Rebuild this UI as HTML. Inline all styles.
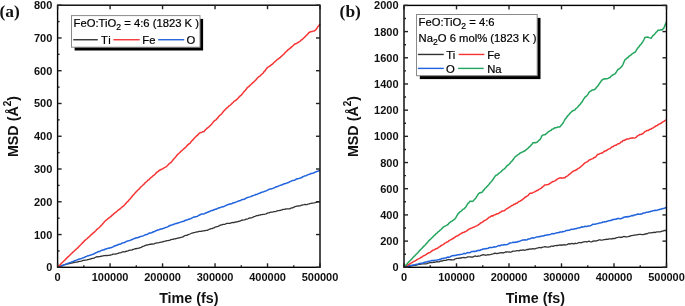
<!DOCTYPE html>
<html><head><meta charset="utf-8"><style>
html,body{margin:0;padding:0;background:#fff;width:685px;height:306px;overflow:hidden}
svg{display:block;will-change:transform}
text{font-family:"Liberation Sans",sans-serif;fill:#111}
.tl{font-size:11px;font-weight:bold}
.at{font-size:14.3px;font-weight:bold}
.lg{font-size:11.25px;fill:#000;stroke:#000;stroke-width:0.2px}
.pl{font-family:"Liberation Serif",serif;font-size:17.4px;font-weight:bold}
</style></head><body>
<svg width="685" height="306" viewBox="0 0 685 306">
<rect width="685" height="306" fill="#fff"/>
<path d="M57.60,267.30 L58.65,266.92 L59.70,266.54 L60.75,266.18 L61.80,265.81 L62.85,265.40 L63.90,264.99 L64.95,264.68 L66.00,264.27 L67.00,264.03 L68.00,263.91 L69.00,263.66 L70.00,263.49 L71.00,263.23 L72.00,263.02 L73.00,262.70 L74.00,262.54 L75.00,262.42 L76.00,262.15 L77.00,261.99 L78.00,261.78 L79.00,261.38 L80.00,261.30 L81.00,261.10 L82.00,260.79 L83.00,260.43 L84.00,260.47 L85.00,260.22 L86.00,260.10 L87.00,259.94 L88.00,259.65 L89.00,259.47 L90.00,258.99 L91.00,258.83 L92.00,258.42 L93.00,258.35 L94.00,258.14 L95.00,257.47 L96.00,257.03 L97.00,256.72 L98.00,256.98 L99.00,256.69 L100.00,256.58 L101.00,256.24 L102.00,256.12 L103.00,255.90 L104.00,255.68 L105.00,255.63 L106.00,255.52 L107.00,255.56 L108.00,255.34 L109.00,255.28 L110.00,255.11 L111.00,255.00 L112.00,254.66 L113.00,254.10 L114.00,254.16 L115.00,254.14 L116.00,254.00 L117.00,253.62 L118.00,253.40 L119.00,252.87 L120.00,252.88 L121.00,252.60 L122.00,252.17 L123.00,251.72 L124.00,251.87 L125.00,251.89 L126.00,251.23 L127.00,251.24 L128.00,250.85 L129.00,250.37 L130.00,250.10 L131.00,250.12 L132.00,250.05 L133.00,249.38 L134.00,249.28 L135.00,248.75 L136.00,248.77 L137.00,248.40 L138.00,248.35 L139.00,248.21 L140.00,247.68 L141.00,247.56 L142.00,246.90 L143.00,246.29 L144.00,246.15 L145.00,245.56 L146.00,245.21 L147.00,245.00 L148.00,244.95 L149.00,244.52 L150.00,244.14 L151.00,244.33 L152.00,243.96 L153.00,244.06 L154.00,243.93 L155.00,243.44 L156.00,243.14 L157.00,242.92 L158.00,242.77 L159.00,242.56 L160.00,242.32 L161.00,242.13 L162.00,242.11 L163.00,241.73 L164.00,241.38 L165.00,241.28 L166.00,240.83 L167.00,240.54 L168.00,240.69 L169.00,240.37 L170.00,240.12 L171.00,239.56 L172.00,239.43 L173.00,239.35 L174.00,238.86 L175.00,238.87 L176.00,238.77 L177.00,238.26 L178.00,238.19 L179.00,237.91 L180.00,237.75 L181.00,237.33 L182.00,237.20 L183.00,236.89 L184.00,236.10 L185.00,235.55 L186.00,235.45 L187.00,235.35 L188.00,234.68 L189.00,234.30 L190.00,234.00 L191.00,233.49 L192.00,233.08 L193.00,232.79 L194.00,232.57 L195.00,232.47 L196.00,232.11 L197.00,231.87 L198.00,231.94 L199.00,231.44 L200.00,231.46 L201.00,231.47 L202.00,231.14 L203.00,230.84 L204.00,230.97 L205.00,230.61 L206.00,230.32 L207.00,230.25 L208.00,230.07 L209.00,229.42 L210.00,229.06 L211.00,228.69 L212.00,228.61 L213.00,228.11 L214.00,227.92 L215.00,227.20 L216.00,226.76 L217.00,226.53 L218.00,226.42 L219.00,225.94 L220.00,225.41 L221.00,224.93 L222.00,224.79 L223.00,224.38 L224.00,224.42 L225.00,224.30 L226.00,223.70 L227.00,223.33 L228.00,223.46 L229.00,223.33 L230.00,223.29 L231.00,222.92 L232.00,222.54 L233.00,222.38 L234.00,222.53 L235.00,222.20 L236.00,222.01 L237.00,221.89 L238.00,221.57 L239.00,221.24 L240.00,221.22 L241.00,220.57 L242.00,220.00 L243.00,220.13 L244.00,219.97 L245.00,219.78 L246.00,219.18 L247.00,219.04 L248.00,218.83 L249.00,218.16 L250.00,218.01 L251.00,217.85 L252.00,217.52 L253.00,217.13 L254.00,216.66 L255.00,216.33 L256.00,215.96 L257.00,215.54 L258.00,215.52 L259.00,215.18 L260.00,215.20 L261.00,214.60 L262.00,214.69 L263.00,214.46 L264.00,214.35 L265.00,214.13 L266.00,213.88 L267.00,213.43 L268.00,212.79 L269.00,212.82 L270.00,212.37 L271.00,212.12 L272.00,212.11 L273.00,211.90 L274.00,211.62 L275.00,211.68 L276.00,211.40 L277.00,210.98 L278.00,210.61 L279.00,210.69 L280.00,210.36 L281.00,210.27 L282.00,209.85 L283.00,209.44 L284.00,209.33 L285.00,209.32 L286.00,208.81 L287.00,208.82 L288.00,208.94 L289.00,208.89 L290.00,208.84 L291.00,208.03 L292.00,207.86 L293.00,207.74 L294.00,207.02 L295.00,206.64 L296.00,206.29 L297.00,206.11 L298.00,205.98 L299.00,205.88 L300.00,205.94 L301.00,205.36 L302.00,205.03 L303.00,204.81 L304.00,204.60 L305.00,204.36 L306.00,204.69 L307.00,204.65 L308.00,204.06 L309.00,203.94 L310.00,203.66 L311.00,203.41 L312.00,203.19 L313.00,203.15 L314.00,202.98 L315.00,202.64 L316.00,202.27 L317.00,202.06 L318.00,201.73 L319.00,201.71 L320.00,201.60" fill="none" stroke="#333333" stroke-width="1.3" stroke-linejoin="round"/>
<path d="M57.60,267.30 L58.60,266.92 L59.60,266.52 L60.60,266.13 L61.60,265.75 L62.60,265.39 L63.60,265.04 L64.60,264.63 L65.60,264.29 L66.60,263.91 L67.60,263.50 L68.60,263.10 L69.60,262.73 L70.60,262.40 L71.60,261.98 L72.60,261.65 L73.60,261.24 L74.60,260.79 L75.60,260.46 L76.60,260.14 L77.60,259.62 L78.60,259.27 L79.60,258.91 L80.60,258.70 L81.60,258.43 L82.60,257.90 L83.60,257.65 L84.60,257.30 L85.60,256.72 L86.60,256.33 L87.60,255.80 L88.60,255.67 L89.60,255.34 L90.60,255.10 L91.60,254.75 L92.60,254.32 L93.60,253.97 L94.60,253.51 L95.60,252.84 L96.60,252.61 L97.60,251.95 L98.60,251.54 L99.60,251.52 L100.60,250.88 L101.60,250.41 L102.60,250.00 L103.60,250.08 L104.60,249.50 L105.60,248.94 L106.60,248.97 L107.60,248.35 L108.60,248.31 L109.60,247.98 L110.60,247.73 L111.60,247.48 L112.60,246.95 L113.60,246.64 L114.60,245.84 L115.60,245.71 L116.60,245.30 L117.60,245.04 L118.60,244.35 L119.60,244.23 L120.60,244.08 L121.60,243.29 L122.60,242.89 L123.60,242.65 L124.60,242.50 L125.60,241.89 L126.60,241.37 L127.60,240.98 L128.60,240.82 L129.60,240.63 L130.60,240.13 L131.60,239.69 L132.60,239.31 L133.60,238.91 L134.60,238.57 L135.60,238.01 L136.60,237.81 L137.60,237.81 L138.60,237.27 L139.60,237.03 L140.60,236.37 L141.60,236.19 L142.60,235.95 L143.60,235.59 L144.60,235.13 L145.60,234.71 L146.60,234.41 L147.60,234.23 L148.60,233.50 L149.60,232.95 L150.60,232.89 L151.60,232.76 L152.60,232.26 L153.60,231.80 L154.60,231.55 L155.60,230.93 L156.60,230.49 L157.60,230.06 L158.60,229.89 L159.60,229.46 L160.60,229.02 L161.60,228.89 L162.60,228.79 L163.60,228.16 L164.60,227.92 L165.60,227.43 L166.60,227.28 L167.60,226.85 L168.60,226.27 L169.60,225.78 L170.60,225.25 L171.60,225.08 L172.60,224.75 L173.60,224.27 L174.60,223.97 L175.60,223.62 L176.60,223.53 L177.60,222.91 L178.60,222.94 L179.60,222.45 L180.60,222.10 L181.60,221.67 L182.60,221.50 L183.60,221.21 L184.60,220.72 L185.60,220.26 L186.60,220.00 L187.60,219.76 L188.60,219.18 L189.60,218.92 L190.60,218.74 L191.60,218.17 L192.60,217.57 L193.60,217.10 L194.60,216.98 L195.60,216.70 L196.60,216.55 L197.60,216.22 L198.60,215.50 L199.60,214.95 L200.60,214.54 L201.60,214.12 L202.60,214.04 L203.60,213.89 L204.60,213.66 L205.60,212.96 L206.60,212.82 L207.60,212.22 L208.60,211.82 L209.60,211.62 L210.60,210.95 L211.60,210.45 L212.60,210.47 L213.60,209.95 L214.60,209.56 L215.60,209.31 L216.60,209.06 L217.60,208.35 L218.60,208.02 L219.60,207.74 L220.60,207.44 L221.60,206.94 L222.60,206.74 L223.60,206.67 L224.60,206.10 L225.60,205.73 L226.60,205.11 L227.60,204.73 L228.60,204.58 L229.60,203.99 L230.60,203.98 L231.60,203.79 L232.60,203.02 L233.60,202.98 L234.60,202.42 L235.60,202.20 L236.60,201.89 L237.60,201.28 L238.60,201.02 L239.60,200.70 L240.60,200.44 L241.60,199.79 L242.60,199.60 L243.60,199.43 L244.60,198.98 L245.60,198.49 L246.60,197.82 L247.60,197.54 L248.60,197.12 L249.60,196.95 L250.60,196.65 L251.60,196.24 L252.60,195.63 L253.60,195.42 L254.60,195.12 L255.60,194.51 L256.60,194.46 L257.60,194.09 L258.60,193.40 L259.60,193.37 L260.60,192.68 L261.60,192.28 L262.60,192.12 L263.60,191.78 L264.60,191.39 L265.60,191.07 L266.60,190.60 L267.60,190.10 L268.60,189.59 L269.60,189.09 L270.60,189.04 L271.60,188.84 L272.60,188.42 L273.60,188.14 L274.60,187.58 L275.60,187.06 L276.60,186.70 L277.60,186.62 L278.60,185.88 L279.60,185.61 L280.60,185.13 L281.60,185.02 L282.60,184.52 L283.60,184.07 L284.60,183.70 L285.60,183.41 L286.60,183.21 L287.60,182.66 L288.60,182.50 L289.60,181.78 L290.60,181.34 L291.60,180.83 L292.60,180.40 L293.60,180.39 L294.60,180.15 L295.60,179.51 L296.60,179.01 L297.60,178.71 L298.60,178.56 L299.60,178.33 L300.60,177.97 L301.60,177.51 L302.60,176.82 L303.60,176.45 L304.60,175.95 L305.60,175.71 L306.60,175.42 L307.60,174.85 L308.60,174.41 L309.60,174.32 L310.60,173.62 L311.60,173.55 L312.60,173.36 L313.60,173.10 L314.60,172.42 L315.60,172.01 L316.60,171.63 L317.60,171.27 L318.60,171.10 L320.00,170.21" fill="none" stroke="#1f62dc" stroke-width="1.5" stroke-linejoin="round"/>
<path d="M57.60,267.30 L58.64,266.24 L59.69,265.20 L60.73,264.14 L61.78,263.09 L62.82,262.05 L63.87,260.93 L64.91,259.92 L65.96,258.88 L67.00,257.81 L68.00,256.87 L69.00,255.92 L70.00,254.92 L71.00,254.02 L72.00,252.99 L73.00,252.11 L74.00,251.23 L75.00,250.27 L76.00,249.35 L77.00,248.54 L78.00,247.61 L79.00,246.41 L80.00,245.54 L81.00,244.56 L82.00,243.37 L83.00,242.41 L84.00,241.38 L85.00,240.31 L86.00,239.48 L87.00,238.74 L88.00,237.66 L89.00,236.92 L90.00,236.00 L91.00,234.80 L92.00,234.11 L93.00,233.17 L94.00,232.41 L95.00,231.45 L96.00,230.50 L97.00,229.31 L98.00,228.52 L99.00,227.71 L100.00,226.77 L101.00,225.57 L102.00,224.69 L103.00,223.61 L104.00,222.36 L105.00,221.24 L106.00,220.30 L107.00,219.47 L108.00,218.59 L109.00,217.91 L110.00,217.24 L111.00,216.36 L112.00,215.41 L113.00,214.64 L114.00,213.60 L115.00,212.74 L116.00,212.12 L117.00,211.18 L118.00,210.18 L119.00,209.71 L120.00,208.95 L121.00,207.95 L122.00,207.06 L123.00,206.30 L124.00,205.56 L125.00,204.56 L126.00,203.21 L127.00,202.10 L128.00,201.33 L129.00,199.97 L130.00,198.93 L131.00,197.68 L132.00,196.51 L133.00,195.34 L134.00,194.33 L135.00,193.11 L136.00,191.96 L137.00,190.92 L138.00,189.92 L139.00,189.10 L140.00,187.90 L141.00,186.78 L142.00,185.96 L143.00,185.00 L144.00,184.18 L145.00,182.85 L146.00,182.05 L147.00,181.20 L148.00,180.11 L149.00,179.70 L150.00,178.59 L151.00,177.53 L152.00,176.79 L153.00,175.79 L154.00,175.13 L155.00,174.19 L156.00,173.14 L157.00,172.15 L158.00,171.62 L159.00,170.63 L160.00,170.00 L161.00,169.47 L162.00,169.25 L163.00,168.52 L164.00,167.91 L165.00,167.39 L166.00,166.82 L167.00,165.96 L168.00,164.92 L169.00,163.82 L170.00,163.19 L171.00,162.46 L172.00,161.34 L173.00,159.92 L174.00,158.74 L175.00,157.68 L176.00,156.53 L177.00,155.29 L178.00,154.09 L179.00,153.26 L180.00,152.39 L181.00,151.16 L182.00,150.56 L183.00,149.47 L184.00,148.66 L185.00,147.85 L186.00,147.02 L187.00,145.61 L188.00,144.64 L189.00,143.89 L190.00,143.26 L191.00,141.79 L192.00,140.66 L193.00,139.89 L194.00,138.51 L195.00,137.46 L196.00,136.44 L197.00,135.63 L198.00,134.87 L199.00,133.53 L200.00,132.71 L201.00,132.44 L202.00,132.19 L203.00,131.71 L204.00,131.53 L205.00,130.33 L206.00,129.31 L207.00,128.23 L208.00,127.64 L209.00,126.73 L210.00,125.72 L211.00,124.75 L212.00,123.68 L213.00,122.40 L214.00,121.16 L215.00,120.45 L216.00,119.89 L217.00,118.52 L218.00,117.60 L219.00,116.13 L220.00,115.22 L221.00,114.42 L222.00,113.45 L223.00,111.96 L224.00,110.74 L225.00,109.92 L226.00,108.79 L227.00,107.79 L228.00,107.03 L229.00,105.99 L230.00,105.34 L231.00,104.49 L232.00,103.42 L233.00,102.51 L234.00,101.47 L235.00,100.75 L236.00,100.31 L237.00,99.15 L238.00,98.31 L239.00,97.13 L240.00,96.06 L241.00,95.39 L242.00,94.31 L243.00,92.90 L244.00,91.65 L245.00,90.70 L246.00,89.56 L247.00,88.01 L248.00,87.05 L249.00,86.53 L250.00,85.32 L251.00,84.45 L252.00,83.45 L253.00,82.67 L254.00,81.67 L255.00,80.79 L256.00,79.70 L257.00,78.47 L258.00,77.51 L259.00,76.55 L260.00,76.11 L261.00,75.02 L262.00,74.02 L263.00,73.27 L264.00,71.79 L265.00,70.86 L266.00,69.27 L267.00,68.10 L268.00,67.17 L269.00,66.66 L270.00,65.86 L271.00,65.06 L272.00,64.32 L273.00,63.58 L274.00,62.47 L275.00,61.67 L276.00,60.75 L277.00,59.67 L278.00,59.18 L279.00,58.36 L280.00,57.67 L281.00,56.55 L282.00,55.79 L283.00,54.81 L284.00,54.01 L285.00,52.72 L286.00,51.78 L287.00,50.91 L288.00,49.80 L289.00,49.10 L290.00,48.40 L291.00,47.40 L292.00,46.59 L293.00,45.77 L294.00,44.71 L295.00,43.85 L296.00,43.75 L297.00,43.05 L298.00,42.52 L299.00,41.81 L300.00,41.31 L301.00,40.23 L302.00,39.63 L303.00,38.67 L304.00,37.75 L305.00,36.83 L306.00,35.70 L307.00,34.86 L308.00,33.71 L309.00,32.60 L310.00,31.89 L311.00,31.75 L312.00,31.60 L313.00,31.13 L314.00,30.97 L315.00,30.56 L316.00,29.46 L317.00,28.16 L318.00,26.45 L319.00,25.48 L320.00,24.00" fill="none" stroke="#f73434" stroke-width="1.5" stroke-linejoin="round"/>
<path d="M404.00,267.10 L405.00,266.92 L406.00,266.76 L407.00,266.58 L408.00,266.41 L409.00,266.26 L410.00,266.03 L411.00,265.93 L412.00,265.72 L413.00,265.56 L414.00,265.37 L415.00,265.29 L416.00,265.16 L417.00,264.91 L418.00,264.64 L419.00,264.48 L420.00,264.35 L421.00,264.09 L422.00,263.90 L423.00,263.96 L424.00,263.88 L425.00,263.88 L426.00,263.80 L427.00,263.65 L428.00,263.26 L429.00,262.88 L430.00,262.69 L431.00,262.60 L432.00,262.51 L433.00,262.40 L434.00,262.15 L435.00,262.26 L436.00,261.87 L437.00,261.72 L438.00,261.86 L439.00,261.79 L440.00,261.32 L441.00,260.98 L442.00,261.16 L443.00,260.55 L444.00,260.28 L445.00,260.39 L446.00,260.37 L447.00,259.98 L448.00,259.63 L449.00,259.52 L450.00,259.84 L451.00,259.66 L452.00,259.91 L453.00,259.79 L454.00,259.81 L455.00,258.98 L456.00,258.65 L457.00,258.29 L458.00,258.38 L459.00,258.27 L460.00,257.91 L461.00,258.07 L462.00,257.70 L463.00,257.63 L464.00,257.47 L465.00,257.76 L466.00,257.51 L467.00,257.20 L468.00,256.80 L469.00,256.86 L470.00,256.97 L471.00,256.98 L472.00,257.10 L473.00,256.99 L474.00,256.42 L475.00,256.00 L476.00,256.23 L477.00,256.28 L478.00,256.01 L479.00,256.07 L480.00,255.80 L481.00,255.38 L482.00,255.03 L483.00,254.68 L484.00,254.95 L485.00,255.20 L486.00,255.25 L487.00,254.84 L488.00,254.75 L489.00,254.84 L490.00,254.72 L491.00,254.42 L492.00,254.06 L493.00,253.91 L494.00,253.50 L495.00,253.25 L496.00,253.46 L497.00,253.73 L498.00,253.43 L499.00,253.11 L500.00,252.85 L501.00,252.74 L502.00,252.90 L503.00,252.62 L504.00,252.82 L505.00,252.20 L506.00,251.98 L507.00,251.98 L508.00,251.81 L509.00,252.02 L510.00,252.03 L511.00,252.04 L512.00,251.72 L513.00,251.04 L514.00,251.10 L515.00,251.03 L516.00,250.89 L517.00,250.58 L518.00,250.72 L519.00,250.87 L520.00,250.22 L521.00,250.32 L522.00,250.05 L523.00,249.97 L524.00,250.17 L525.00,250.25 L526.00,249.96 L527.00,249.40 L528.00,249.66 L529.00,249.11 L530.00,248.96 L531.00,249.17 L532.00,248.79 L533.00,248.52 L534.00,248.86 L535.00,248.95 L536.00,248.41 L537.00,248.16 L538.00,247.89 L539.00,247.58 L540.00,247.47 L541.00,247.93 L542.00,247.35 L543.00,247.14 L544.00,246.95 L545.00,246.70 L546.00,246.87 L547.00,247.06 L548.00,247.15 L549.00,246.95 L550.00,246.94 L551.00,246.22 L552.00,246.05 L553.00,246.44 L554.00,245.84 L555.00,245.65 L556.00,245.67 L557.00,245.44 L558.00,245.49 L559.00,245.04 L560.00,244.92 L561.00,245.37 L562.00,244.86 L563.00,245.16 L564.00,244.65 L565.00,245.00 L566.00,244.83 L567.00,244.67 L568.00,244.12 L569.00,243.73 L570.00,244.05 L571.00,243.65 L572.00,243.42 L573.00,243.75 L574.00,243.86 L575.00,243.19 L576.00,243.54 L577.00,243.29 L578.00,242.98 L579.00,242.55 L580.00,242.51 L581.00,242.90 L582.00,242.44 L583.00,242.04 L584.00,241.80 L585.00,241.61 L586.00,241.63 L587.00,242.02 L588.00,241.45 L589.00,241.21 L590.00,241.63 L591.00,241.79 L592.00,241.78 L593.00,241.11 L594.00,240.83 L595.00,241.10 L596.00,240.78 L597.00,240.74 L598.00,240.33 L599.00,239.84 L600.00,239.81 L601.00,240.04 L602.00,240.10 L603.00,239.88 L604.00,239.62 L605.00,239.49 L606.00,239.28 L607.00,239.19 L608.00,239.31 L609.00,238.78 L610.00,238.78 L611.00,238.98 L612.00,238.92 L613.00,238.29 L614.00,238.55 L615.00,238.50 L616.00,237.86 L617.00,237.57 L618.00,237.32 L619.00,237.00 L620.00,237.53 L621.00,237.23 L622.00,237.39 L623.00,236.78 L624.00,236.34 L625.00,236.75 L626.00,236.80 L627.00,236.90 L628.00,236.62 L629.00,236.29 L630.00,236.25 L631.00,235.62 L632.00,235.61 L633.00,235.45 L634.00,235.06 L635.00,235.16 L636.00,234.91 L637.00,234.86 L638.00,234.65 L639.00,234.43 L640.00,234.28 L641.00,234.33 L642.00,234.57 L643.00,234.56 L644.00,234.41 L645.00,234.24 L646.00,233.65 L647.00,233.84 L648.00,233.28 L649.00,232.83 L650.00,232.85 L651.00,232.95 L652.00,232.60 L653.00,232.60 L654.00,232.23 L655.00,232.52 L656.00,232.15 L657.00,231.92 L658.00,231.78 L659.00,231.90 L660.00,231.95 L661.00,231.52 L662.00,231.17 L663.00,231.07 L664.00,230.49 L665.00,230.43 L665.75,230.69 L666.50,230.38" fill="none" stroke="#333333" stroke-width="1.3" stroke-linejoin="round"/>
<path d="M404.00,267.10 L405.00,266.87 L406.00,266.66 L407.00,266.42 L408.00,266.24 L409.00,265.98 L410.00,265.72 L411.00,265.52 L412.00,265.36 L413.00,265.10 L414.00,264.94 L415.00,264.72 L416.00,264.42 L417.00,264.13 L418.00,263.94 L419.00,263.69 L420.00,263.45 L421.00,263.31 L422.00,263.21 L423.00,262.94 L424.00,262.52 L425.00,262.22 L426.00,262.03 L427.00,261.93 L428.00,261.54 L429.00,261.20 L430.00,261.04 L431.00,260.82 L432.00,260.45 L433.00,260.44 L434.00,260.55 L435.00,260.25 L436.00,260.12 L437.00,260.01 L438.00,259.85 L439.00,259.71 L440.00,259.20 L441.00,259.01 L442.00,258.39 L443.00,258.56 L444.00,258.13 L445.00,257.88 L446.00,257.98 L447.00,257.42 L448.00,256.97 L449.00,257.15 L450.00,256.93 L451.00,256.29 L452.00,255.84 L453.00,255.77 L454.00,255.34 L455.00,255.68 L456.00,255.19 L457.00,254.92 L458.00,254.77 L459.00,254.68 L460.00,254.45 L461.00,254.38 L462.00,254.25 L463.00,253.89 L464.00,253.33 L465.00,253.67 L466.00,253.46 L467.00,252.76 L468.00,252.61 L469.00,252.67 L470.00,252.76 L471.00,251.94 L472.00,251.40 L473.00,251.41 L474.00,251.25 L475.00,251.43 L476.00,251.33 L477.00,250.77 L478.00,250.46 L479.00,250.33 L480.00,250.39 L481.00,249.75 L482.00,249.49 L483.00,249.00 L484.00,249.11 L485.00,248.54 L486.00,248.88 L487.00,248.59 L488.00,248.37 L489.00,247.76 L490.00,247.48 L491.00,247.42 L492.00,247.58 L493.00,247.27 L494.00,246.81 L495.00,247.03 L496.00,246.76 L497.00,246.40 L498.00,245.86 L499.00,245.57 L500.00,245.79 L501.00,245.16 L502.00,245.07 L503.00,244.97 L504.00,244.60 L505.00,244.63 L506.00,244.64 L507.00,244.48 L508.00,244.19 L509.00,243.50 L510.00,242.96 L511.00,242.89 L512.00,242.64 L513.00,242.30 L514.00,242.57 L515.00,242.05 L516.00,242.17 L517.00,242.20 L518.00,241.43 L519.00,241.60 L520.00,241.14 L521.00,240.66 L522.00,240.30 L523.00,239.89 L524.00,239.95 L525.00,239.77 L526.00,239.93 L527.00,239.87 L528.00,239.10 L529.00,238.90 L530.00,238.68 L531.00,238.29 L532.00,238.04 L533.00,237.82 L534.00,237.94 L535.00,237.59 L536.00,237.12 L537.00,236.88 L538.00,236.82 L539.00,236.77 L540.00,236.37 L541.00,236.43 L542.00,235.94 L543.00,235.96 L544.00,235.80 L545.00,235.26 L546.00,235.35 L547.00,234.98 L548.00,234.81 L549.00,234.65 L550.00,234.48 L551.00,234.13 L552.00,233.54 L553.00,233.74 L554.00,233.76 L555.00,233.35 L556.00,233.11 L557.00,232.63 L558.00,232.80 L559.00,232.57 L560.00,231.98 L561.00,232.06 L562.00,232.11 L563.00,231.50 L564.00,231.62 L565.00,231.14 L566.00,230.55 L567.00,230.60 L568.00,230.19 L569.00,230.20 L570.00,229.96 L571.00,229.34 L572.00,229.28 L573.00,229.38 L574.00,229.01 L575.00,228.76 L576.00,228.79 L577.00,228.34 L578.00,228.05 L579.00,227.87 L580.00,227.86 L581.00,227.23 L582.00,226.73 L583.00,226.92 L584.00,226.71 L585.00,226.29 L586.00,226.45 L587.00,226.39 L588.00,225.97 L589.00,226.01 L590.00,225.78 L591.00,225.48 L592.00,224.86 L593.00,224.23 L594.00,224.35 L595.00,224.33 L596.00,223.88 L597.00,223.66 L598.00,223.51 L599.00,223.06 L600.00,223.09 L601.00,222.87 L602.00,222.51 L603.00,222.00 L604.00,222.00 L605.00,221.68 L606.00,221.74 L607.00,221.20 L608.00,221.01 L609.00,220.64 L610.00,220.52 L611.00,220.47 L612.00,219.95 L613.00,219.55 L614.00,219.58 L615.00,219.25 L616.00,219.21 L617.00,218.80 L618.00,218.44 L619.00,218.50 L620.00,218.71 L621.00,218.63 L622.00,218.19 L623.00,217.77 L624.00,217.19 L625.00,216.97 L626.00,216.78 L627.00,217.07 L628.00,216.41 L629.00,216.65 L630.00,216.26 L631.00,215.92 L632.00,215.51 L633.00,215.75 L634.00,215.12 L635.00,215.01 L636.00,214.79 L637.00,214.32 L638.00,213.99 L639.00,214.33 L640.00,214.20 L641.00,213.97 L642.00,213.88 L643.00,213.06 L644.00,213.06 L645.00,212.96 L646.00,212.37 L647.00,212.17 L648.00,212.36 L649.00,211.80 L650.00,211.77 L651.00,211.16 L652.00,211.15 L653.00,210.71 L654.00,210.57 L655.00,210.27 L656.00,210.41 L657.00,210.24 L658.00,209.85 L659.00,209.69 L660.00,209.28 L661.00,209.28 L662.00,208.71 L663.00,208.55 L664.00,208.39 L665.00,208.03 L665.75,207.52 L666.50,207.74" fill="none" stroke="#1f62dc" stroke-width="1.5" stroke-linejoin="round"/>
<path d="M404.00,267.10 L405.00,266.53 L406.00,265.95 L407.00,265.40 L408.00,264.83 L409.00,264.30 L410.00,263.75 L411.00,263.18 L412.00,262.56 L413.00,261.90 L414.00,261.38 L415.00,260.88 L416.00,260.39 L417.00,259.68 L418.00,259.03 L419.00,258.66 L420.00,258.11 L421.00,257.48 L422.00,256.96 L423.00,256.20 L424.00,255.69 L425.00,255.21 L426.00,254.65 L427.00,253.89 L428.00,253.21 L429.00,252.82 L430.00,252.48 L431.00,251.61 L432.00,250.81 L433.00,250.17 L434.00,249.97 L435.00,249.33 L436.00,248.77 L437.00,248.55 L438.00,247.88 L439.00,247.03 L440.00,246.63 L441.00,245.62 L442.00,245.05 L443.00,244.79 L444.00,243.94 L445.00,243.03 L446.00,242.63 L447.00,241.92 L448.00,241.74 L449.00,240.59 L450.00,240.25 L451.00,239.51 L452.00,239.20 L453.00,238.45 L454.00,237.98 L455.00,237.18 L456.00,236.43 L457.00,235.96 L458.00,235.71 L459.00,234.92 L460.00,234.16 L461.00,233.71 L462.00,232.96 L463.00,232.51 L464.00,232.23 L465.00,231.80 L466.00,231.36 L467.00,230.63 L468.00,229.80 L469.00,229.14 L470.00,228.81 L471.00,228.24 L472.00,227.99 L473.00,227.33 L474.00,227.14 L475.00,226.63 L476.00,226.15 L477.00,225.69 L478.00,225.02 L479.00,224.34 L480.00,223.65 L481.00,222.68 L482.00,222.45 L483.00,221.72 L484.00,220.69 L485.00,220.50 L486.00,219.76 L487.00,219.07 L488.00,218.23 L489.00,217.21 L490.00,217.07 L491.00,216.25 L492.00,215.81 L493.00,215.89 L494.00,215.00 L495.00,214.68 L496.00,214.29 L497.00,213.71 L498.00,213.76 L499.00,213.15 L500.00,212.33 L501.00,211.94 L502.00,211.08 L503.00,210.94 L504.00,210.69 L505.00,210.30 L506.00,209.12 L507.00,208.78 L508.00,208.01 L509.00,207.49 L510.00,206.81 L511.00,206.18 L512.00,205.44 L513.00,205.18 L514.00,204.31 L515.00,204.31 L516.00,203.25 L517.00,203.19 L518.00,202.23 L519.00,201.39 L520.00,201.22 L521.00,200.49 L522.00,199.95 L523.00,199.09 L524.00,198.39 L525.00,197.24 L526.00,196.78 L527.00,196.04 L528.00,195.66 L529.00,194.32 L530.00,193.35 L531.00,193.28 L532.00,193.19 L533.00,192.50 L534.00,192.16 L535.00,191.64 L536.00,191.02 L537.00,190.54 L538.00,190.18 L539.00,189.31 L540.00,188.89 L541.00,188.43 L542.00,187.39 L543.00,186.64 L544.00,185.68 L545.00,184.88 L546.00,184.80 L547.00,184.66 L548.00,184.60 L549.00,184.01 L550.00,183.35 L551.00,182.76 L552.00,181.98 L553.00,181.47 L554.00,181.22 L555.00,180.84 L556.00,180.07 L557.00,179.38 L558.00,178.71 L559.00,178.17 L560.00,177.89 L561.00,177.75 L562.00,178.16 L563.00,178.05 L564.00,177.79 L565.00,177.71 L566.00,176.57 L567.00,176.16 L568.00,175.54 L569.00,174.50 L570.00,173.87 L571.00,172.97 L572.00,172.17 L573.00,171.47 L574.00,170.78 L575.00,170.46 L576.00,169.99 L577.00,169.50 L578.00,168.44 L579.00,168.14 L580.00,167.43 L581.00,166.46 L582.00,165.65 L583.00,164.75 L584.00,163.69 L585.00,162.89 L586.00,162.38 L587.00,161.80 L588.00,161.29 L589.00,160.08 L590.00,159.69 L591.00,159.33 L592.00,158.86 L593.00,158.62 L594.00,157.59 L595.00,157.40 L596.00,156.64 L597.00,155.15 L598.00,154.32 L599.00,154.27 L600.00,153.50 L601.00,153.34 L602.00,153.07 L603.00,152.33 L604.00,151.52 L605.00,150.98 L606.00,150.84 L607.00,150.13 L608.00,149.41 L609.00,148.87 L610.00,148.69 L611.00,147.73 L612.00,146.79 L613.00,146.77 L614.00,145.93 L615.00,145.28 L616.00,145.29 L617.00,144.49 L618.00,143.74 L619.00,143.80 L620.00,143.07 L621.00,142.05 L622.00,141.69 L623.00,140.48 L624.00,140.55 L625.00,139.96 L626.00,139.49 L627.00,139.04 L628.00,138.93 L629.00,138.72 L630.00,138.32 L631.00,138.19 L632.00,137.86 L633.00,138.05 L634.00,138.11 L635.00,137.90 L636.00,137.41 L637.00,136.31 L638.00,135.67 L639.00,135.06 L640.00,134.46 L641.00,134.44 L642.00,134.02 L643.00,133.49 L644.00,132.62 L645.00,131.52 L646.00,131.12 L647.00,130.40 L648.00,130.52 L649.00,129.81 L650.00,129.27 L651.00,129.17 L652.00,128.22 L653.00,128.04 L654.00,127.16 L655.00,126.72 L656.00,125.76 L657.00,125.64 L658.00,124.87 L659.00,124.16 L660.00,123.77 L661.08,123.21 L662.17,122.35 L663.25,121.53 L664.33,121.19 L665.42,120.27 L666.50,120.10" fill="none" stroke="#f73434" stroke-width="1.5" stroke-linejoin="round"/>
<path d="M404.00,267.10 L405.00,266.05 L406.00,264.99 L407.00,263.93 L408.00,262.86 L409.00,261.81 L410.00,260.78 L411.00,259.73 L412.00,258.66 L413.00,257.59 L414.00,256.57 L415.00,255.60 L416.00,254.51 L417.00,253.52 L418.00,252.43 L419.00,251.25 L420.00,250.15 L421.00,249.30 L422.00,248.21 L423.00,247.11 L424.00,246.09 L425.00,245.19 L426.00,244.01 L427.00,242.89 L428.00,241.81 L429.00,240.56 L430.00,239.69 L431.00,238.72 L432.00,237.73 L433.00,236.70 L434.00,235.68 L435.00,234.82 L436.00,233.67 L437.00,233.19 L438.00,231.91 L439.00,231.37 L440.00,230.15 L441.00,229.57 L442.00,228.43 L443.00,227.28 L444.00,226.64 L445.00,226.11 L446.00,225.61 L447.00,225.05 L448.00,224.51 L449.00,223.17 L450.00,222.46 L451.00,221.52 L452.00,221.23 L453.00,220.28 L454.00,219.58 L455.00,218.82 L456.00,217.34 L457.00,215.49 L458.00,213.87 L459.00,212.90 L460.00,211.68 L461.00,211.36 L462.00,210.17 L463.00,209.16 L464.00,208.87 L465.00,207.86 L466.00,206.66 L467.00,204.85 L468.00,203.41 L469.00,202.65 L470.00,201.13 L471.00,201.24 L472.00,201.58 L473.00,201.10 L474.00,200.08 L475.00,198.98 L476.00,197.71 L477.00,196.11 L478.00,194.40 L479.00,193.34 L480.00,192.74 L481.00,192.47 L482.00,192.42 L483.00,190.88 L484.00,189.86 L485.00,188.42 L486.00,187.75 L487.00,186.52 L488.00,185.43 L489.00,184.45 L490.00,182.98 L491.00,181.94 L492.00,180.80 L493.00,179.59 L494.00,177.85 L495.00,176.29 L496.00,175.34 L497.00,175.06 L498.00,174.12 L499.00,173.22 L500.00,172.48 L501.00,171.77 L502.00,170.66 L503.00,169.69 L504.00,169.12 L505.00,168.38 L506.00,167.04 L507.00,165.70 L508.00,165.22 L509.00,164.29 L510.00,163.19 L511.00,161.89 L512.00,161.13 L513.00,159.75 L514.00,158.34 L515.00,157.00 L516.00,156.20 L517.00,155.55 L518.00,154.57 L519.00,154.10 L520.00,153.15 L521.00,152.54 L522.00,152.18 L523.00,151.74 L524.00,151.30 L525.00,150.77 L526.00,149.87 L527.00,148.96 L528.00,148.33 L529.00,147.06 L530.00,146.47 L531.00,145.08 L532.00,144.27 L533.00,142.67 L534.00,142.66 L535.00,142.55 L536.00,142.65 L537.00,142.22 L538.00,141.23 L539.00,140.18 L540.00,139.56 L541.00,137.85 L542.00,135.60 L543.00,135.10 L544.00,134.63 L545.00,134.77 L546.00,133.84 L547.00,133.07 L548.00,132.06 L549.00,131.47 L550.00,130.88 L551.00,130.36 L552.00,129.32 L553.00,128.93 L554.00,128.51 L555.00,127.70 L556.00,127.85 L557.00,127.38 L558.00,126.98 L559.00,126.90 L560.00,126.67 L561.00,125.39 L562.00,124.43 L563.00,123.05 L564.00,121.24 L565.00,119.33 L566.00,118.21 L567.00,116.80 L568.00,115.55 L569.00,114.53 L570.00,113.29 L571.00,112.25 L572.00,111.37 L573.00,110.60 L574.00,110.46 L575.00,109.78 L576.00,108.51 L577.00,107.75 L578.00,106.79 L579.00,105.34 L580.00,104.67 L581.00,103.00 L582.00,102.08 L583.00,100.20 L584.00,98.68 L585.00,97.19 L586.00,96.45 L587.00,95.42 L588.00,94.11 L589.00,92.51 L590.00,91.36 L591.00,91.06 L592.00,90.11 L593.00,90.08 L594.00,89.70 L595.00,89.31 L596.00,88.01 L597.00,86.71 L598.00,85.76 L599.00,84.12 L600.00,82.76 L601.00,81.34 L602.00,80.08 L603.00,79.35 L604.00,78.80 L605.00,78.96 L606.00,78.64 L607.00,78.78 L608.00,78.37 L609.00,77.87 L610.00,77.51 L611.00,76.26 L612.00,75.51 L613.00,74.89 L614.00,74.30 L615.00,73.87 L616.00,72.53 L617.00,70.94 L618.00,69.50 L619.00,68.98 L620.00,68.26 L621.00,67.13 L622.00,66.21 L623.00,64.28 L624.00,61.92 L625.00,59.71 L626.00,59.03 L627.00,57.97 L628.00,57.56 L629.00,56.22 L630.00,55.68 L631.00,54.92 L632.00,53.93 L633.00,53.36 L634.00,52.61 L635.00,52.25 L636.00,50.83 L637.00,49.11 L638.00,47.72 L639.00,46.76 L640.00,45.19 L641.00,44.44 L642.00,42.85 L643.00,41.31 L644.00,39.49 L645.00,37.42 L646.00,37.12 L647.00,37.34 L648.00,37.09 L649.00,37.64 L650.00,37.88 L651.00,38.31 L652.00,36.87 L653.00,35.55 L654.00,34.81 L655.00,33.65 L656.00,32.41 L657.00,31.45 L658.00,30.37 L659.00,30.30 L660.00,30.06 L661.00,29.66 L662.00,29.92 L663.00,28.90 L664.00,27.71 L665.25,24.61 L666.50,21.90" fill="none" stroke="#23a55e" stroke-width="1.5" stroke-linejoin="round"/>
<rect x="57.6" y="5.2" width="262.4" height="262.1" fill="none" stroke="#000" stroke-width="1.4"/>
<line x1="57.60" y1="267.3" x2="57.60" y2="263.3" stroke="#222" stroke-width="1.4"/>
<line x1="57.60" y1="5.2" x2="57.60" y2="9.2" stroke="#222" stroke-width="1.4"/>
<text x="57.60" y="280.9" text-anchor="middle" class="tl">0</text>
<line x1="83.84" y1="267.3" x2="83.84" y2="265.3" stroke="#222" stroke-width="1.4"/>
<line x1="110.08" y1="267.3" x2="110.08" y2="263.3" stroke="#222" stroke-width="1.4"/>
<line x1="110.08" y1="5.2" x2="110.08" y2="9.2" stroke="#222" stroke-width="1.4"/>
<text x="110.08" y="280.9" text-anchor="middle" class="tl">100000</text>
<line x1="136.32" y1="267.3" x2="136.32" y2="265.3" stroke="#222" stroke-width="1.4"/>
<line x1="162.56" y1="267.3" x2="162.56" y2="263.3" stroke="#222" stroke-width="1.4"/>
<line x1="162.56" y1="5.2" x2="162.56" y2="9.2" stroke="#222" stroke-width="1.4"/>
<text x="162.56" y="280.9" text-anchor="middle" class="tl">200000</text>
<line x1="188.80" y1="267.3" x2="188.80" y2="265.3" stroke="#222" stroke-width="1.4"/>
<line x1="215.04" y1="267.3" x2="215.04" y2="263.3" stroke="#222" stroke-width="1.4"/>
<line x1="215.04" y1="5.2" x2="215.04" y2="9.2" stroke="#222" stroke-width="1.4"/>
<text x="215.04" y="280.9" text-anchor="middle" class="tl">300000</text>
<line x1="241.28" y1="267.3" x2="241.28" y2="265.3" stroke="#222" stroke-width="1.4"/>
<line x1="267.52" y1="267.3" x2="267.52" y2="263.3" stroke="#222" stroke-width="1.4"/>
<line x1="267.52" y1="5.2" x2="267.52" y2="9.2" stroke="#222" stroke-width="1.4"/>
<text x="267.52" y="280.9" text-anchor="middle" class="tl">400000</text>
<line x1="293.76" y1="267.3" x2="293.76" y2="265.3" stroke="#222" stroke-width="1.4"/>
<line x1="320.00" y1="267.3" x2="320.00" y2="263.3" stroke="#222" stroke-width="1.4"/>
<line x1="320.00" y1="5.2" x2="320.00" y2="9.2" stroke="#222" stroke-width="1.4"/>
<text x="320.00" y="280.9" text-anchor="middle" class="tl">500000</text>
<line x1="57.6" y1="267.30" x2="61.6" y2="267.30" stroke="#222" stroke-width="1.4"/>
<line x1="320.0" y1="267.30" x2="316.0" y2="267.30" stroke="#222" stroke-width="1.4"/>
<text x="52.3" y="271.30" text-anchor="end" class="tl">0</text>
<line x1="57.6" y1="250.92" x2="59.6" y2="250.92" stroke="#222" stroke-width="1.4"/>
<line x1="57.6" y1="234.54" x2="61.6" y2="234.54" stroke="#222" stroke-width="1.4"/>
<line x1="320.0" y1="234.54" x2="316.0" y2="234.54" stroke="#222" stroke-width="1.4"/>
<text x="52.3" y="238.54" text-anchor="end" class="tl">100</text>
<line x1="57.6" y1="218.16" x2="59.6" y2="218.16" stroke="#222" stroke-width="1.4"/>
<line x1="57.6" y1="201.78" x2="61.6" y2="201.78" stroke="#222" stroke-width="1.4"/>
<line x1="320.0" y1="201.78" x2="316.0" y2="201.78" stroke="#222" stroke-width="1.4"/>
<text x="52.3" y="205.78" text-anchor="end" class="tl">200</text>
<line x1="57.6" y1="185.39" x2="59.6" y2="185.39" stroke="#222" stroke-width="1.4"/>
<line x1="57.6" y1="169.01" x2="61.6" y2="169.01" stroke="#222" stroke-width="1.4"/>
<line x1="320.0" y1="169.01" x2="316.0" y2="169.01" stroke="#222" stroke-width="1.4"/>
<text x="52.3" y="173.01" text-anchor="end" class="tl">300</text>
<line x1="57.6" y1="152.63" x2="59.6" y2="152.63" stroke="#222" stroke-width="1.4"/>
<line x1="57.6" y1="136.25" x2="61.6" y2="136.25" stroke="#222" stroke-width="1.4"/>
<line x1="320.0" y1="136.25" x2="316.0" y2="136.25" stroke="#222" stroke-width="1.4"/>
<text x="52.3" y="140.25" text-anchor="end" class="tl">400</text>
<line x1="57.6" y1="119.87" x2="59.6" y2="119.87" stroke="#222" stroke-width="1.4"/>
<line x1="57.6" y1="103.49" x2="61.6" y2="103.49" stroke="#222" stroke-width="1.4"/>
<line x1="320.0" y1="103.49" x2="316.0" y2="103.49" stroke="#222" stroke-width="1.4"/>
<text x="52.3" y="107.49" text-anchor="end" class="tl">500</text>
<line x1="57.6" y1="87.11" x2="59.6" y2="87.11" stroke="#222" stroke-width="1.4"/>
<line x1="57.6" y1="70.72" x2="61.6" y2="70.72" stroke="#222" stroke-width="1.4"/>
<line x1="320.0" y1="70.72" x2="316.0" y2="70.72" stroke="#222" stroke-width="1.4"/>
<text x="52.3" y="74.72" text-anchor="end" class="tl">600</text>
<line x1="57.6" y1="54.34" x2="59.6" y2="54.34" stroke="#222" stroke-width="1.4"/>
<line x1="57.6" y1="37.96" x2="61.6" y2="37.96" stroke="#222" stroke-width="1.4"/>
<line x1="320.0" y1="37.96" x2="316.0" y2="37.96" stroke="#222" stroke-width="1.4"/>
<text x="52.3" y="41.96" text-anchor="end" class="tl">700</text>
<line x1="57.6" y1="21.58" x2="59.6" y2="21.58" stroke="#222" stroke-width="1.4"/>
<line x1="57.6" y1="5.20" x2="61.6" y2="5.20" stroke="#222" stroke-width="1.4"/>
<line x1="320.0" y1="5.20" x2="316.0" y2="5.20" stroke="#222" stroke-width="1.4"/>
<text x="52.3" y="9.20" text-anchor="end" class="tl">800</text>
<rect x="404.0" y="5.4" width="262.5" height="261.90000000000003" fill="none" stroke="#000" stroke-width="1.4"/>
<line x1="404.00" y1="267.3" x2="404.00" y2="263.3" stroke="#222" stroke-width="1.4"/>
<line x1="404.00" y1="5.4" x2="404.00" y2="9.4" stroke="#222" stroke-width="1.4"/>
<text x="404.00" y="280.9" text-anchor="middle" class="tl">0</text>
<line x1="430.25" y1="267.3" x2="430.25" y2="265.3" stroke="#222" stroke-width="1.4"/>
<line x1="456.50" y1="267.3" x2="456.50" y2="263.3" stroke="#222" stroke-width="1.4"/>
<line x1="456.50" y1="5.4" x2="456.50" y2="9.4" stroke="#222" stroke-width="1.4"/>
<text x="456.50" y="280.9" text-anchor="middle" class="tl">100000</text>
<line x1="482.75" y1="267.3" x2="482.75" y2="265.3" stroke="#222" stroke-width="1.4"/>
<line x1="509.00" y1="267.3" x2="509.00" y2="263.3" stroke="#222" stroke-width="1.4"/>
<line x1="509.00" y1="5.4" x2="509.00" y2="9.4" stroke="#222" stroke-width="1.4"/>
<text x="509.00" y="280.9" text-anchor="middle" class="tl">200000</text>
<line x1="535.25" y1="267.3" x2="535.25" y2="265.3" stroke="#222" stroke-width="1.4"/>
<line x1="561.50" y1="267.3" x2="561.50" y2="263.3" stroke="#222" stroke-width="1.4"/>
<line x1="561.50" y1="5.4" x2="561.50" y2="9.4" stroke="#222" stroke-width="1.4"/>
<text x="561.50" y="280.9" text-anchor="middle" class="tl">300000</text>
<line x1="587.75" y1="267.3" x2="587.75" y2="265.3" stroke="#222" stroke-width="1.4"/>
<line x1="614.00" y1="267.3" x2="614.00" y2="263.3" stroke="#222" stroke-width="1.4"/>
<line x1="614.00" y1="5.4" x2="614.00" y2="9.4" stroke="#222" stroke-width="1.4"/>
<text x="614.00" y="280.9" text-anchor="middle" class="tl">400000</text>
<line x1="640.25" y1="267.3" x2="640.25" y2="265.3" stroke="#222" stroke-width="1.4"/>
<line x1="666.50" y1="267.3" x2="666.50" y2="263.3" stroke="#222" stroke-width="1.4"/>
<line x1="666.50" y1="5.4" x2="666.50" y2="9.4" stroke="#222" stroke-width="1.4"/>
<text x="666.50" y="280.9" text-anchor="middle" class="tl">500000</text>
<line x1="404.0" y1="267.30" x2="408.0" y2="267.30" stroke="#222" stroke-width="1.4"/>
<line x1="666.5" y1="267.30" x2="662.5" y2="267.30" stroke="#222" stroke-width="1.4"/>
<text x="398.6" y="271.30" text-anchor="end" class="tl">0</text>
<line x1="404.0" y1="254.21" x2="406.0" y2="254.21" stroke="#222" stroke-width="1.4"/>
<line x1="404.0" y1="241.11" x2="408.0" y2="241.11" stroke="#222" stroke-width="1.4"/>
<line x1="666.5" y1="241.11" x2="662.5" y2="241.11" stroke="#222" stroke-width="1.4"/>
<text x="398.6" y="245.11" text-anchor="end" class="tl">200</text>
<line x1="404.0" y1="228.02" x2="406.0" y2="228.02" stroke="#222" stroke-width="1.4"/>
<line x1="404.0" y1="214.92" x2="408.0" y2="214.92" stroke="#222" stroke-width="1.4"/>
<line x1="666.5" y1="214.92" x2="662.5" y2="214.92" stroke="#222" stroke-width="1.4"/>
<text x="398.6" y="218.92" text-anchor="end" class="tl">400</text>
<line x1="404.0" y1="201.82" x2="406.0" y2="201.82" stroke="#222" stroke-width="1.4"/>
<line x1="404.0" y1="188.73" x2="408.0" y2="188.73" stroke="#222" stroke-width="1.4"/>
<line x1="666.5" y1="188.73" x2="662.5" y2="188.73" stroke="#222" stroke-width="1.4"/>
<text x="398.6" y="192.73" text-anchor="end" class="tl">600</text>
<line x1="404.0" y1="175.63" x2="406.0" y2="175.63" stroke="#222" stroke-width="1.4"/>
<line x1="404.0" y1="162.54" x2="408.0" y2="162.54" stroke="#222" stroke-width="1.4"/>
<line x1="666.5" y1="162.54" x2="662.5" y2="162.54" stroke="#222" stroke-width="1.4"/>
<text x="398.6" y="166.54" text-anchor="end" class="tl">800</text>
<line x1="404.0" y1="149.44" x2="406.0" y2="149.44" stroke="#222" stroke-width="1.4"/>
<line x1="404.0" y1="136.35" x2="408.0" y2="136.35" stroke="#222" stroke-width="1.4"/>
<line x1="666.5" y1="136.35" x2="662.5" y2="136.35" stroke="#222" stroke-width="1.4"/>
<text x="398.6" y="140.35" text-anchor="end" class="tl">1000</text>
<line x1="404.0" y1="123.25" x2="406.0" y2="123.25" stroke="#222" stroke-width="1.4"/>
<line x1="404.0" y1="110.16" x2="408.0" y2="110.16" stroke="#222" stroke-width="1.4"/>
<line x1="666.5" y1="110.16" x2="662.5" y2="110.16" stroke="#222" stroke-width="1.4"/>
<text x="398.6" y="114.16" text-anchor="end" class="tl">1200</text>
<line x1="404.0" y1="97.06" x2="406.0" y2="97.06" stroke="#222" stroke-width="1.4"/>
<line x1="404.0" y1="83.97" x2="408.0" y2="83.97" stroke="#222" stroke-width="1.4"/>
<line x1="666.5" y1="83.97" x2="662.5" y2="83.97" stroke="#222" stroke-width="1.4"/>
<text x="398.6" y="87.97" text-anchor="end" class="tl">1400</text>
<line x1="404.0" y1="70.88" x2="406.0" y2="70.88" stroke="#222" stroke-width="1.4"/>
<line x1="404.0" y1="57.78" x2="408.0" y2="57.78" stroke="#222" stroke-width="1.4"/>
<line x1="666.5" y1="57.78" x2="662.5" y2="57.78" stroke="#222" stroke-width="1.4"/>
<text x="398.6" y="61.78" text-anchor="end" class="tl">1600</text>
<line x1="404.0" y1="44.69" x2="406.0" y2="44.69" stroke="#222" stroke-width="1.4"/>
<line x1="404.0" y1="31.59" x2="408.0" y2="31.59" stroke="#222" stroke-width="1.4"/>
<line x1="666.5" y1="31.59" x2="662.5" y2="31.59" stroke="#222" stroke-width="1.4"/>
<text x="398.6" y="35.59" text-anchor="end" class="tl">1800</text>
<line x1="404.0" y1="18.50" x2="406.0" y2="18.50" stroke="#222" stroke-width="1.4"/>
<line x1="404.0" y1="5.40" x2="408.0" y2="5.40" stroke="#222" stroke-width="1.4"/>
<line x1="666.5" y1="5.40" x2="662.5" y2="5.40" stroke="#222" stroke-width="1.4"/>
<text x="398.6" y="9.40" text-anchor="end" class="tl">2000</text>
<text x="188.8" y="302.8" text-anchor="middle" class="at">Time (fs)</text>
<text x="535.3" y="302.8" text-anchor="middle" class="at">Time (fs)</text>
<text transform="translate(17.7,157.1) rotate(-90)" class="at">MSD (&#197;<tspan dy="-6.5" font-size="10">2</tspan><tspan dy="6.5">)</tspan></text>
<text transform="translate(357.9,157.1) rotate(-90)" class="at">MSD (&#197;<tspan dy="-6.5" font-size="10">2</tspan><tspan dy="6.5">)</tspan></text>
<text x="-0.6" y="17" class="pl">(a)</text>
<text x="339.6" y="17" class="pl">(b)</text>
<rect x="74.6" y="18.9" width="128.5" height="31.6" fill="#000"/>
<rect x="71.5" y="15.6" width="128.5" height="31.6" fill="#fff" stroke="#8a8a8a" stroke-width="1"/>
<text x="73.6" y="27.1" class="lg">FeO:TiO<tspan dy="3" font-size="8.6">2</tspan><tspan dy="-3"> = 4:6 (1823 K )</tspan></text>
<line x1="73.2" y1="39.75" x2="97.8" y2="39.75" stroke="#333333" stroke-width="1.4"/>
<text x="100.9" y="43.7" class="lg" letter-spacing="0.9">Ti</text>
<line x1="113.4" y1="39.75" x2="139.7" y2="39.75" stroke="#f73434" stroke-width="1.4"/>
<text x="142.3" y="43.7" class="lg">Fe</text>
<line x1="158.2" y1="39.75" x2="184.2" y2="39.75" stroke="#1f62dc" stroke-width="1.4"/>
<text x="186.5" y="43.7" class="lg">O</text>
<rect x="419.8" y="17.9" width="120.7" height="61.2" fill="#000"/>
<rect x="416.5" y="14.5" width="120.7" height="61.2" fill="#fff" stroke="#8a8a8a" stroke-width="1"/>
<text x="418.6" y="25.8" class="lg">FeO:TiO<tspan dy="3" font-size="8.6">2</tspan><tspan dy="-3"> = 4:6</tspan></text>
<text x="418.6" y="42.1" class="lg">Na<tspan dy="3" font-size="8.6">2</tspan><tspan dy="-3">O 6 mol% (1823 K )</tspan></text>
<line x1="417.9" y1="54.45" x2="443.8" y2="54.45" stroke="#333333" stroke-width="1.4"/>
<text x="446.3" y="58.5" class="lg">Ti</text>
<line x1="458.7" y1="54.45" x2="484.4" y2="54.45" stroke="#f73434" stroke-width="1.4"/>
<text x="487.2" y="58.5" class="lg">Fe</text>
<line x1="417.9" y1="68.4" x2="443.8" y2="68.4" stroke="#1f62dc" stroke-width="1.4"/>
<text x="446" y="72.7" class="lg">O</text>
<line x1="458.1" y1="68.4" x2="483.7" y2="68.4" stroke="#23a55e" stroke-width="1.4"/>
<text x="487.2" y="72.7" class="lg">Na</text>
</svg>
</body></html>
